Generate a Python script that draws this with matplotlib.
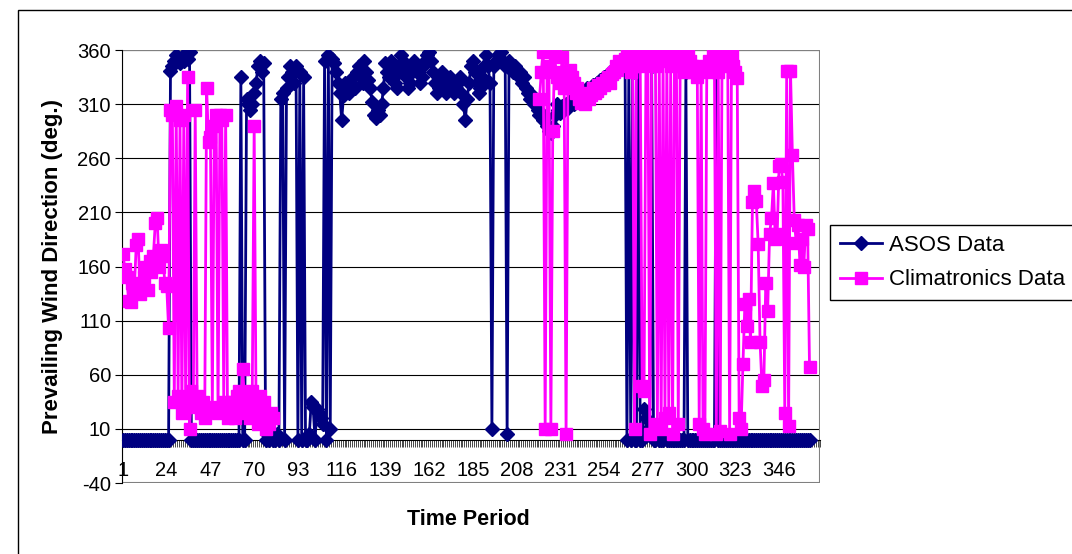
import numpy as np
import matplotlib.pyplot as plt
from matplotlib.patches import Rectangle

plt.rcParams['font.family'] = ['Liberation Sans', 'DejaVu Sans']
plt.rcParams['font.size'] = 14.5
plt.rcParams['axes.unicode_minus'] = False

nan = np.nan

# ---------- data ----------
asos = (
    [0] * 25
    + [341, 345, 350, 355, 352, 348, 354, 350, 357, 352, 358]
    + [0] * 26
    + [335, 0, 0, 315, 310, 305, 310, 320, 330, 345, 350, 340, 348, 0, 5, 0, 8, 0]
    + [0, 5, 0, 315, 320, 0, 325, 335, 345, 340, 330, 345, 0, 340, 0, 335,
       0, 0, 5, 35, 30, 0, 28, 25, 20, 15, 350, 0, 355, 10, 352, 348]
    + [340, 330, 320, 295, 318, 330, 325, 320, 330, 335, 325, 340, 345, 335, 330,
       350, 340, 332, 325, 312, 300, 297, 305, 300, 310, 325, 348, 340, 335, 350,
       345, 330, 325, 340, 355, 350, 345, 335, 325, 330, 340, 350, 345, 340, 330,
       335, 345, 350, 355, 358, 350, 340, 330, 320, 325, 335, 340, 330, 320, 325,
       335, 330, 320, 325, 330, 335, 320, 310, 295, 315, 330, 345, 350, 340, 330,
       320, 325, 335, 345, 355, 345, 330]
    + [10]
    + [345, 350, 355, 352, 358, 350, 345, 5, 350, 345, 340]
    + [345, 340, 335, 340, 330, 335, 325, 320, 315, 318, 310, 312, 305, 300, 302,
       295, 298, 290, 285, 283, 290, 300]
    + [310, 305, 302, 308, 305, 310, 306, 312, 315, 310, 318, 315, 320, 318, 322,
       320, 325]
    + [322, 325, 328, 326, 330, 328, 332, 330, 335, 332, 338, 335, 340, 342, 345,
       340, 348, 350, 345, 352, 0]
    + [345, 0, 340, 0, 0, 350, 0, 0, 28, 20, 10, 5, 345, 0, 0, 5, 0, 0, 0, 2,
       0, 0, 0, 0]
    + [0, 0, 0, 0, 0, 0, 340, 0, 0, 0]
    + [0] * 12 + [345, 0]
    + [0] * 48
)

climatronics = (
    [172, 158, 150, 128, 127, 145, 140, 180, 185, 135, 140, 150, 160, 138, 165,
     155, 170, 200, 205, 160, 175, 170, 145, 142, 103]
    + [305, 300, 35, 308, 40, 295, 25, 300, 30, 335, 10, 45, 35, 305, 40]
    + [30, 25, 35, 20, 325, 275, 280, 30, 290, 300, 25, 300, 295, 35, 300, 20,
       30, 35, 25, 20]
    + [40, 45, 30, 65, 35, 25, 40, 20, 45, 290, 30, 15, 40, 25, 35, 10, 20, 15,
       25, 20]
    + [nan] * 139
    + [315, 340, 358, 10, 345, 340, 10, 285, 355, 335, 340, 330, 354, 325, 5,
       340, 342, 335, 330, 320, 325]
    + [315, 311, 318, 310, 320, 315, 318, 325, 320, 322, 328, 325, 330, 328, 332,
       335, 330, 338, 340, 345, 342, 350, 348, 345, 352]
    + [355, 350, 340, 345, 10, 350, 355, 345, 50, 45, 350, 358, 5, 355, 350,
       345, 15, 350, 10, 355, 20, 358, 25, 345, 5]
    + [355, 360, 15, 350, 345, 340, 355, 358, 350, 345, 340, 345, 335, 15, 340,
       10, 5, 345, 350, 340, 355, 345, 5, 340, 8]
    + [351, 345, 357, 350, 5, 355, 345, 340, 334, 20, 10, 70, 125, 105, 130,
       90, 220, 230, 221, 181, 90, 50, 55, 145, 119, 190, 205, 237, 185, 190,
       253, 255, 238, 25, 341, 13, 341, 263, 203, 182, 198, 161, 185, 160, 198,
       195, 67]
)

periods = np.arange(1, len(asos) + 1)
x_labels = np.arange(1, 347, 23)
y_ticks = np.arange(-40, 361, 50)

# ---------- figure ----------
fig = plt.figure(figsize=(10.72, 5.54), dpi=100)
ax = fig.add_axes([0.1138, 0.128, 0.6511, 0.7817])

ax.plot(periods, asos, '-D', color='#000080', lw=2, ms=7.5,
        label='ASOS Data', zorder=3)
ax.plot(periods, climatronics, '-s', color='#FF00FF', lw=2, ms=8.5,
        label='Climatronics Data', zorder=3)

ax.set_xlim(0.5, 367.5)
ax.set_ylim(-40, 360)
ax.set_yticks(y_ticks)
ax.yaxis.grid(True, color='black', lw=0.8)
ax.set_axisbelow(True)

# category axis crosses at 0, like in the spreadsheet
ax.spines['bottom'].set_position(('data', 0))
ax.spines['bottom'].set_color('black')
ax.spines['left'].set_color('black')
ax.spines['top'].set_visible(False)
ax.spines['right'].set_visible(False)
ax.add_patch(Rectangle((0, 0), 1, 1, transform=ax.transAxes, fill=False,
                       edgecolor='#808080', lw=1.5, zorder=1))

ax.set_xticks(x_labels)
ax.set_xticklabels([str(v) for v in x_labels])
ax.set_xticks(np.arange(0.5, 368, 1), minor=True)
ax.tick_params(axis='x', which='major', length=0, pad=15)
ax.tick_params(axis='x', which='minor', length=5, width=0.5, direction='out')
ax.tick_params(axis='y', length=5, pad=3)

ax.set_ylabel('Prevailing Wind Direction (deg.)', fontweight='bold',
              fontsize=16, labelpad=10)
fig.text(0.437, 0.062, 'Time Period', ha='center', va='center',
         fontweight='bold', fontsize=15.5)

leg = ax.legend(loc='upper left', bbox_to_anchor=(830 / 1072, 1 - 225 / 554),
                bbox_transform=fig.transFigure, fancybox=False,
                edgecolor='black', framealpha=1, fontsize=16,
                handlelength=1.9, handletextpad=0.3, borderpad=0.45,
                labelspacing=0.6, borderaxespad=0)
leg.get_frame().set_linewidth(1)

# outer chart border
fig.add_artist(Rectangle((18 / 1072, -0.05), 1.1, 1.032, transform=fig.transFigure,
                         fill=False, edgecolor='black', lw=1))

fig.savefig('out.png', dpi=100)
